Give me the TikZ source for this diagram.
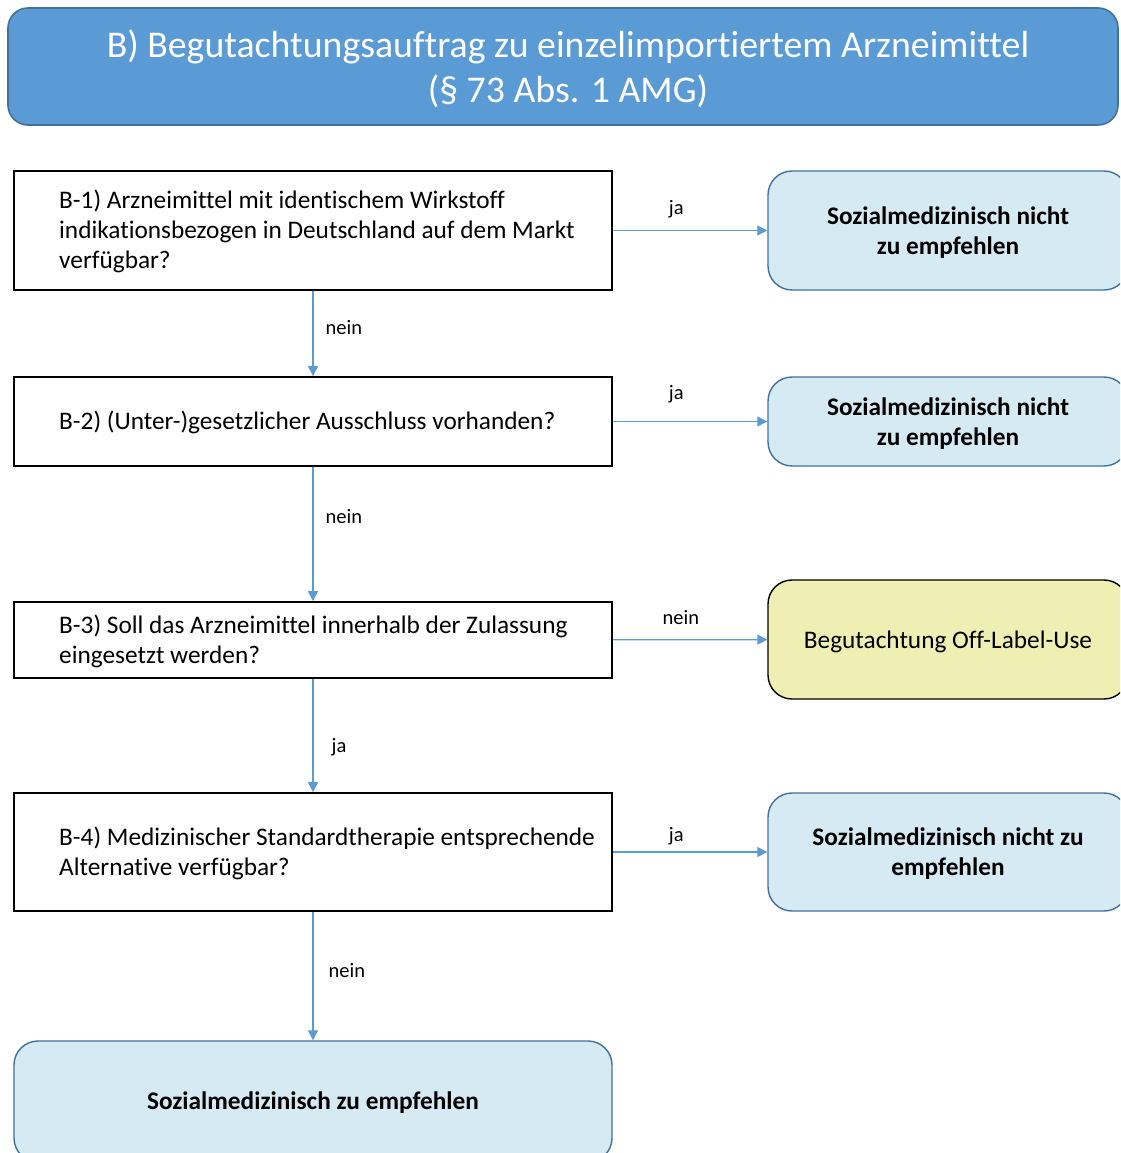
\documentclass[tikz,border=0pt]{standalone}
\usepackage{fontspec}
\setmainfont[Ligatures={NoCommon}]{Carlito}
\usetikzlibrary{arrows.meta}
\definecolor{titleblue}{HTML}{5B9BD5}
\definecolor{titleborder}{HTML}{41719C}
\definecolor{lightbox}{HTML}{D5EAF3}
\definecolor{lightborder}{HTML}{41719C}
\definecolor{yellowbox}{HTML}{EFEFB3}
\definecolor{arrowblue}{HTML}{5B9BD5}
\tikzset{
  qbox/.style={draw=black, line width=1.8pt, fill=white, rectangle, minimum width=598pt, inner sep=0pt},
  qtext/.style={anchor=west, align=left, inner sep=0pt, font=\fontsize{25.3}{30}\selectfont},
  resbox/.style={draw=lightborder, line width=1.4pt, fill=lightbox, rounded corners=24pt, minimum width=360pt, inner sep=0pt},
  yelbox/.style={draw=black, line width=1.4pt, fill=yellowbox, rounded corners=24pt, minimum width=360pt, inner sep=0pt},
  restext/.style={inner sep=0pt, align=center, font=\fontsize{25.3}{30}\selectfont\bfseries},
  yeltext/.style={inner sep=0pt, align=center, font=\fontsize{25.3}{30}\selectfont},
  arr/.style={draw=arrowblue, line width=1.2pt, -{Triangle[length=10pt,width=10pt]}},
  lab/.style={font=\fontsize{20.5}{24}\selectfont, inner sep=0pt}
}
\begin{document}
\begin{tikzpicture}[x=1pt,y=-1pt]
\clip (0,0) rectangle (1120,1153);
\fill[white] (0,0) rectangle (1120,1153);
% title
\node[draw=titleborder, line width=1.6pt, fill=titleblue, rounded corners=20pt, minimum width=1110pt, minimum height=117pt, inner sep=0pt] (title) at (563,66.5) {};
\node[text=white, align=center, inner sep=0pt, font=\fontsize{37.8}{45}\selectfont] (titletext) at (568,68.5) {B) Begutachtungsauftrag zu einzelimportiertem Arzneimittel\\(§ 73 Abs. 1 AMG)};
% question boxes
\node[qbox, minimum height=119pt] (b1) at (313,230.5) {};
\node[qtext] (t1) at (59,231.5) {B-1) Arzneimittel mit identischem Wirkstoff\\indikationsbezogen in Deutschland auf dem Markt\\verfügbar?};
\node[qbox, minimum height=89pt] (b2) at (313,421.5) {};
\node[qtext] (t2) at (59,422.5) {B-2) (Unter-)gesetzlicher Ausschluss vorhanden?};
\node[qbox, minimum height=76pt] (b3) at (313,640) {};
\node[qtext] (t3) at (59,641) {B-3) Soll das Arzneimittel innerhalb der Zulassung\\eingesetzt werden?};
\node[qbox, minimum height=118pt] (b4) at (313,852) {};
\node[qtext] (t4) at (59,853.5) {B-4) Medizinischer Standardtherapie entsprechende\\Alternative verfügbar?};
% result boxes
\node[resbox, minimum height=119pt] (r1) at (948,230.5) {};
\node[restext] (rt1) at (948,232.5) {Sozialmedizinisch nicht\\zu empfehlen};
\node[resbox, minimum height=89pt] (r2) at (948,421.5) {};
\node[restext] (rt2) at (948,423.5) {Sozialmedizinisch nicht\\zu empfehlen};
\node[yelbox, minimum height=119pt] (r3) at (948,639.5) {};
\node[yeltext] (rt3) at (948,642) {Begutachtung Off-Label-Use};
\node[resbox, minimum height=118pt] (r4) at (948,852) {};
\node[restext] (rt4) at (948,854) {Sozialmedizinisch nicht zu\\empfehlen};
\node[resbox, minimum width=598pt, minimum height=121pt] (r5) at (313,1101.5) {};
\node[restext] (rt5) at (313,1102.5) {Sozialmedizinisch zu empfehlen};
% horizontal arrows
\draw[arr] (b1) -- node[lab, pos=0.41, yshift=21pt] (l1) {ja} (r1);
\draw[arr] (b2) -- node[lab, pos=0.41, yshift=27pt] (l2) {ja} (r2);
\draw[arr] (b3) -- node[lab, pos=0.44, yshift=22pt] (l3) {nein} (r3);
\draw[arr] (b4) -- node[lab, pos=0.41, yshift=16pt] (l4) {ja} (r4);
% vertical arrows
\draw[arr] (b1) -- node[lab, pos=0.43, anchor=west, xshift=12pt] (v1) {nein} (b2);
\draw[arr] (b2) -- node[lab, pos=0.37, anchor=west, xshift=12pt] (v2) {nein} (b3);
\draw[arr] (b3) -- node[lab, pos=0.6, anchor=west, xshift=18pt] (v3) {ja} (b4);
\draw[arr] (b4) -- node[lab, pos=0.46, anchor=west, xshift=15pt] (v4) {nein} (r5);
\end{tikzpicture}
\end{document}
